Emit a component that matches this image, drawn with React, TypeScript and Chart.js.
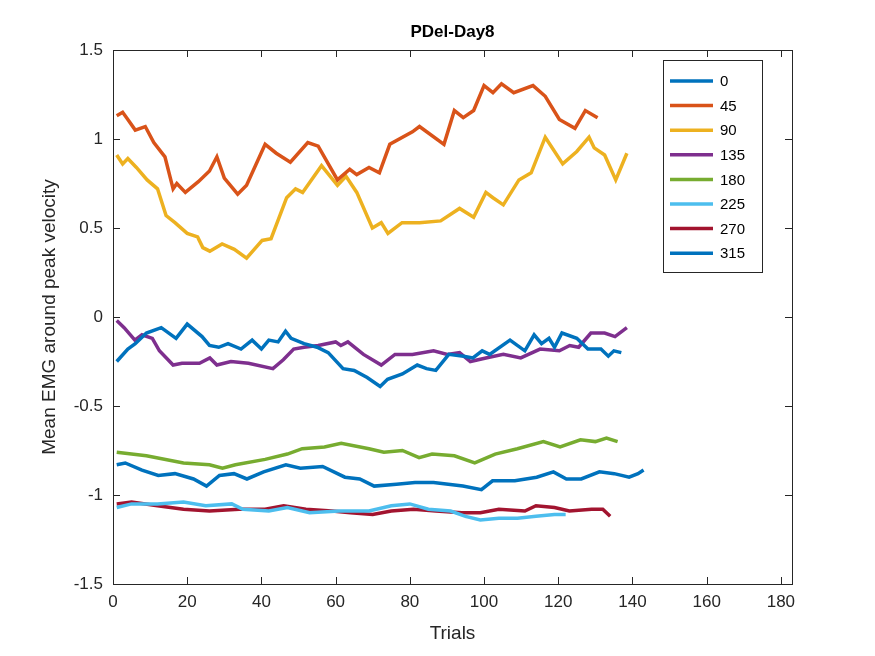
import React, { useEffect, useRef } from "react";
import Chart from "chart.js/auto";

const labels = ["0", "45", "90", "135", "180", "225", "270", "315"];
const colors = ["#0072BD", "#D95319", "#EDB120", "#7E2F8E", "#77AC30", "#4DBEEE", "#A2142F", "#0072BD"];

// [trial, value] pairs
const s0 = [[1,-0.25],[4,-0.18],[6,-0.15],[9,-0.09],[13,-0.06],[17,-0.12],[20,-0.04],[24,-0.11],[26,-0.16],[28.5,-0.17],[31,-0.15],[34.5,-0.18],[37.5,-0.13],[40,-0.18],[42,-0.13],[44.5,-0.14],[46.5,-0.08],[48,-0.12],[51.5,-0.15],[55,-0.17],[58,-0.2],[62,-0.29],[65,-0.3],[68.5,-0.34],[72,-0.39],[74,-0.35],[78,-0.32],[82,-0.27],[84.5,-0.29],[87,-0.3],[90.5,-0.21],[94.5,-0.22],[97,-0.23],[99.5,-0.19],[101.5,-0.21],[107,-0.13],[111,-0.19],[113.5,-0.1],[115.5,-0.15],[117.5,-0.12],[119,-0.17],[121,-0.09],[125,-0.12],[128,-0.18],[131.5,-0.18],[133.5,-0.22],[135,-0.19],[137,-0.2]];
const s45 = [[1,1.13],[2.6,1.15],[4,1.11],[6,1.05],[8.7,1.07],[11,0.98],[14,0.9],[16.2,0.72],[17.2,0.75],[19.5,0.7],[23,0.76],[26,0.82],[28,0.9],[30,0.78],[33.6,0.69],[36,0.74],[41,0.97],[44,0.92],[47.8,0.87],[52.5,0.98],[55.3,0.96],[60.5,0.77],[63.8,0.83],[65.7,0.8],[69,0.84],[71.8,0.81],[74.6,0.97],[80.7,1.04],[82.6,1.07],[89.2,0.97],[92,1.16],[94.4,1.12],[97.2,1.16],[100,1.3],[102.4,1.26],[104.7,1.31],[108,1.26],[113.2,1.3],[116.5,1.24],[120.3,1.11],[124.5,1.06],[127.3,1.16],[130.6,1.12]];
const s90 = [[1,0.91],[2.6,0.86],[4,0.89],[6.3,0.84],[9.2,0.77],[12,0.72],[14.3,0.57],[16.7,0.53],[20,0.47],[22.8,0.45],[24.2,0.39],[26.1,0.37],[29.4,0.41],[32.7,0.38],[36,0.33],[40.2,0.43],[42.6,0.44],[46.8,0.67],[49.2,0.72],[51.1,0.7],[56.2,0.85],[60.5,0.74],[62.8,0.79],[65.7,0.7],[69.9,0.5],[72.3,0.53],[74.1,0.47],[77.9,0.53],[82.6,0.53],[88.3,0.54],[93.4,0.61],[97.2,0.56],[100.5,0.7],[102.4,0.67],[105.2,0.63],[109.4,0.77],[112.7,0.81],[116.5,1.01],[121.2,0.86],[125,0.93],[128.3,1.01],[129.7,0.95],[132.5,0.91],[135.5,0.77],[138.5,0.92]];
const s135 = [[1,-0.02],[3,-0.06],[5.9,-0.13],[7.8,-0.1],[10.6,-0.12],[12.5,-0.19],[16.2,-0.27],[18.6,-0.26],[23.3,-0.26],[26.1,-0.23],[28,-0.27],[31.8,-0.25],[36.5,-0.26],[43.1,-0.29],[45.9,-0.24],[48.7,-0.18],[51.5,-0.17],[55.3,-0.16],[60,-0.14],[61.4,-0.16],[63.3,-0.14],[67.5,-0.21],[72.3,-0.27],[76,-0.21],[80.7,-0.21],[86.4,-0.19],[90.1,-0.21],[93.4,-0.2],[96.3,-0.25],[100.5,-0.23],[105.2,-0.21],[109.9,-0.23],[115.1,-0.18],[120.3,-0.19],[123.1,-0.16],[125.5,-0.17],[128.8,-0.09],[132.5,-0.09],[135.3,-0.11],[138.5,-0.06]];
const s180 = [[1,-0.76],[9,-0.78],[19,-0.82],[26,-0.83],[29.5,-0.85],[33,-0.83],[41,-0.8],[47,-0.77],[51,-0.74],[57,-0.73],[61.5,-0.71],[69,-0.74],[73,-0.76],[78,-0.75],[82.5,-0.79],[86,-0.77],[92,-0.78],[97.5,-0.82],[103,-0.77],[109,-0.74],[116,-0.7],[120.5,-0.73],[126,-0.69],[130,-0.7],[133,-0.68],[136,-0.7]];
const s225 = [[1,-1.07],[5,-1.05],[12,-1.05],[19,-1.04],[25,-1.06],[32,-1.05],[35,-1.08],[42,-1.09],[47,-1.07],[53,-1.1],[61,-1.09],[69,-1.09],[75,-1.06],[80,-1.05],[85,-1.08],[91,-1.09],[95,-1.12],[99,-1.14],[104,-1.13],[109,-1.13],[114,-1.12],[119,-1.11],[122,-1.11]];
const s270 = [[1,-1.05],[5,-1.04],[12,-1.06],[19,-1.08],[26,-1.09],[34,-1.08],[41,-1.08],[46,-1.06],[52,-1.08],[59,-1.09],[64,-1.1],[70,-1.11],[75,-1.09],[81,-1.08],[87,-1.09],[94,-1.1],[99,-1.1],[104,-1.08],[111,-1.09],[114,-1.06],[119,-1.07],[123,-1.09],[129,-1.08],[132,-1.08],[134,-1.12]];
const s315 = [[1,-0.83],[3.3,-0.82],[7.8,-0.86],[12.2,-0.89],[16.7,-0.88],[21.7,-0.91],[25.2,-0.95],[28.7,-0.89],[32.6,-0.88],[36.1,-0.91],[40.6,-0.87],[46.6,-0.83],[50.5,-0.85],[56.5,-0.84],[62.5,-0.9],[66.5,-0.91],[70.4,-0.95],[76.4,-0.94],[81.4,-0.93],[86.4,-0.93],[94.3,-0.95],[99.3,-0.97],[102.3,-0.92],[108.3,-0.92],[114.2,-0.9],[118.7,-0.87],[122.2,-0.91],[126.2,-0.91],[131.1,-0.87],[135.1,-0.88],[139.1,-0.9],[141.5,-0.88],[143,-0.86]];
const series = [s0, s45, s90, s135, s180, s225, s270, s315];

const xTicks = [0, 20, 40, 60, 80, 100, 120, 140, 160, 180];
const yTicks = [-1.5, -1, -0.5, 0, 0.5, 1, 1.5];

const FONT = "'Liberation Sans', Arial, sans-serif";

const boxPlugin = {
  id: "matlabBox",
  afterDraw(chart: any) {
    const { ctx, chartArea: a, scales } = chart;
    ctx.save();
    ctx.strokeStyle = "#262626";
    ctx.lineWidth = 1;
    ctx.strokeRect(a.left + 0.5, a.top + 0.5, a.right - a.left, a.bottom - a.top);
    ctx.beginPath();
    for (const t of xTicks) {
      const x = Math.round(scales.x.getPixelForValue(t)) + 0.5;
      ctx.moveTo(x, a.bottom); ctx.lineTo(x, a.bottom - 7);
      ctx.moveTo(x, a.top); ctx.lineTo(x, a.top + 7);
    }
    for (const t of yTicks) {
      const y = Math.round(scales.y.getPixelForValue(t)) + 0.5;
      ctx.moveTo(a.left, y); ctx.lineTo(a.left + 7, y);
      ctx.moveTo(a.right, y); ctx.lineTo(a.right - 7, y);
    }
    ctx.stroke();
    // title
    ctx.fillStyle = "#000";
    ctx.font = `bold 17px ${FONT}`;
    ctx.textAlign = "center";
    ctx.textBaseline = "middle";
    ctx.fillText("PDel-Day8", (a.left + a.right) / 2, 32);
    // legend
    const lx = 663, ly = 60, lw = 99, lh = 212;
    ctx.fillStyle = "#fff";
    ctx.fillRect(lx, ly, lw, lh);
    ctx.strokeStyle = "#262626";
    ctx.strokeRect(lx + 0.5, ly + 0.5, lw, lh);
    ctx.font = `15px ${FONT}`;
    ctx.textAlign = "left";
    labels.forEach((lab, i) => {
      const y = ly + 21 + i * 24.6;
      ctx.strokeStyle = colors[i];
      ctx.lineWidth = 3.5;
      ctx.beginPath();
      ctx.moveTo(670, y); ctx.lineTo(713, y);
      ctx.stroke();
      ctx.fillStyle = "#000";
      ctx.fillText(lab, 720, y + 1);
    });
    ctx.restore();
  },
};

export default function App() {
  const ref = useRef<HTMLCanvasElement | null>(null);

  useEffect(() => {
    if (!ref.current) return;
    const chart = new Chart(ref.current, {
      type: "line",
      data: {
        datasets: series.map((s, i) => ({
          label: labels[i],
          data: s.map(([x, y]) => ({ x, y })),
          borderColor: colors[i],
          borderWidth: 3.5,
          pointRadius: 0,
          tension: 0,
          fill: false,
        })),
      },
      options: {
        animation: false,
        responsive: false,
        layout: { padding: { left: 0, top: 50, right: 83, bottom: 0 } },
        plugins: { legend: { display: false }, tooltip: { enabled: false } },
        scales: {
          x: {
            type: "linear",
            min: 0,
            max: 183,
            afterBuildTicks: (s: any) => { s.ticks = xTicks.map((v) => ({ value: v })); },
            afterFit: (s: any) => { s.height = 72; },
            grid: { display: false, drawTicks: false },
            border: { display: false },
            ticks: { color: "#262626", font: { family: FONT, size: 17 }, padding: 8, maxRotation: 0 },
            title: { display: true, text: "Trials", color: "#262626", font: { family: FONT, size: 19 }, padding: { top: 2, bottom: 11 } },
          },
          y: {
            min: -1.5,
            max: 1.5,
            afterBuildTicks: (s: any) => { s.ticks = yTicks.map((v) => ({ value: v })); },
            afterFit: (s: any) => { s.width = 113; },
            grid: { display: false, drawTicks: false },
            border: { display: false },
            ticks: { color: "#262626", font: { family: FONT, size: 17 }, padding: 10, callback: (v: any) => String(v) },
            title: { display: true, text: "Mean EMG around peak velocity", color: "#262626", font: { family: FONT, size: 19 }, padding: { top: 38, bottom: 6 } },
          },
        },
      },
      plugins: [boxPlugin],
    });
    return () => chart.destroy();
  }, []);

  return (
    <div style={{ position: "fixed", left: 0, top: 0, width: 875, height: 656, background: "#fff" }}>
      <canvas ref={ref} width={875} height={656} />
    </div>
  );
}
